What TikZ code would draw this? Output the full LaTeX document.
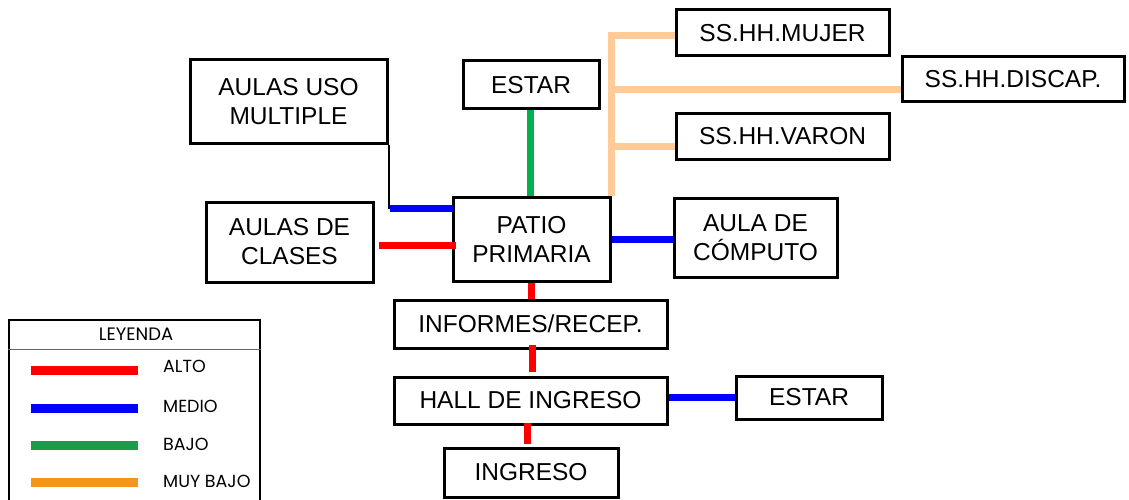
\documentclass[tikz,border=0pt]{standalone}
\usepackage{fontspec}
\setmainfont{Liberation Sans}
\newfontfamily\legfont{Poppins}
\definecolor{cred}{HTML}{FF0000}
\definecolor{cblue}{HTML}{0000FF}
\definecolor{cgreen}{HTML}{00B050}
\definecolor{cpeach}{HTML}{FFCC99}
\definecolor{lgreen}{HTML}{1E9A4B}
\definecolor{lorange}{HTML}{F7941D}
\tikzset{
  box/.style={draw, line width=3pt, align=center, inner sep=0pt,
    font=\fontsize{24.5}{29}\selectfont},
  link/.style={line width=7pt},
  thinlink/.style={line width=2pt, black},
  swatch/.style={line width=9pt},
  legtext/.style={anchor=base west, inner sep=0pt, font=\legfont\fontsize{17.5}{20}\selectfont},
}
\begin{document}
\begin{tikzpicture}[x=1pt,y=-1pt]
\useasboundingbox (0,0) rectangle (1129,500);
\fill[white] (0,0) rectangle (1129,500);
% boxes
\node[box, minimum width=197, minimum height=83] (aum) at (288.5,101.5) {AULAS USO\\MULTIPLE};
\node[box, minimum width=136, minimum height=48] (estar1) at (531,85) {ESTAR};
\node[box, minimum width=157, minimum height=84] (patio) at (531.5,239) {PATIO\\PRIMARIA};
\node[box, minimum width=167, minimum height=80] (clases) at (289.5,242) {AULAS DE\\CLASES};
\node[box, minimum width=213, minimum height=46] (mujer) at (782.5,33) {SS.HH.MUJER};
\node[box, minimum width=222, minimum height=45] (discap) at (1013,79.5) {SS.HH.DISCAP.};
\node[box, minimum width=213, minimum height=45] (varon) at (782.5,136.5) {SS.HH.VARON};
\node[box, minimum width=163, minimum height=79] (computo) at (755.5,237.5) {AULA DE\\CÓMPUTO};
\node[box, minimum width=273, minimum height=48] (informes) at (530.5,324) {INFORMES/RECEP.};
\node[box, minimum width=273, minimum height=47] (hall) at (530.5,400.5) {HALL DE INGRESO};
\node[box, minimum width=146, minimum height=43] (estar2) at (809,397.5) {ESTAR};
\node[box, minimum width=174, minimum height=49] (ingreso) at (531,472.5) {INGRESO};
% connectors
\draw[link, cgreen] ([xshift=-1pt]estar1.south) -- ([xshift=-1pt]estar1.south |- patio.north);
\draw[link, cpeach] (patio.north east) |- ([yshift=-3pt]mujer.west);
\draw[link, cpeach] (patio.north east) |- ([yshift=-10pt]discap.west);
\draw[link, cpeach] (patio.north east) |- ([yshift=-10pt]varon.west);
\coordinate (pw) at ([yshift=-13pt]patio.north west);
\draw[thinlink] (aum.south east) -- (aum.south east |- pw);
\draw[link, cblue] ([xshift=1.5pt]aum.south east |- pw) -- ([xshift=1.5pt]pw);
\draw[link, cred] ([xshift=4pt,yshift=-3pt]clases.east) -- ([xshift=4pt,yshift=-3pt]clases.east -| patio.west);
\draw[link, cblue] (patio.east) -- (patio.east -| computo.west);
\draw[link, cred] (patio.south) -- (patio.south |- informes.north);
\draw[link, cred] ([xshift=1.5pt,yshift=5pt]informes.south) -- ([xshift=1.5pt,yshift=4pt]hall.north);
\draw[link, cblue] (estar2.west -| hall.east) -- (estar2.west);
\draw[link, cred] ([xshift=-3pt,yshift=3pt]hall.south) -- ([xshift=-3pt,yshift=3pt]hall.south |- ingreso.north);
% legend
\node[draw, line width=2pt, minimum width=251, minimum height=190, inner sep=0pt] (leg) at (134.5,415) {};
\draw[line width=1pt, black!60] (leg.west |- 0,349) -- (leg.east |- 0,349);
\node[anchor=base, inner sep=0pt, font=\legfont\fontsize{18}{20}\selectfont] (legt) at (136,340) {LEYENDA};
\draw[swatch, cred] (31,370) -- (138,370);
\draw[swatch, cblue] (31,408) -- (138,408);
\draw[swatch, lgreen] (31,445) -- (138,445);
\draw[swatch, lorange] (31,482) -- (138,482);
\node[legtext] (l1) at (163,372) {ALTO};
\node[legtext] (l2) at (163,412) {MEDIO};
\node[legtext] (l3) at (163,450) {BAJO};
\node[legtext] (l4) at (163,487) {MUY BAJO};
\end{tikzpicture}
\end{document}
